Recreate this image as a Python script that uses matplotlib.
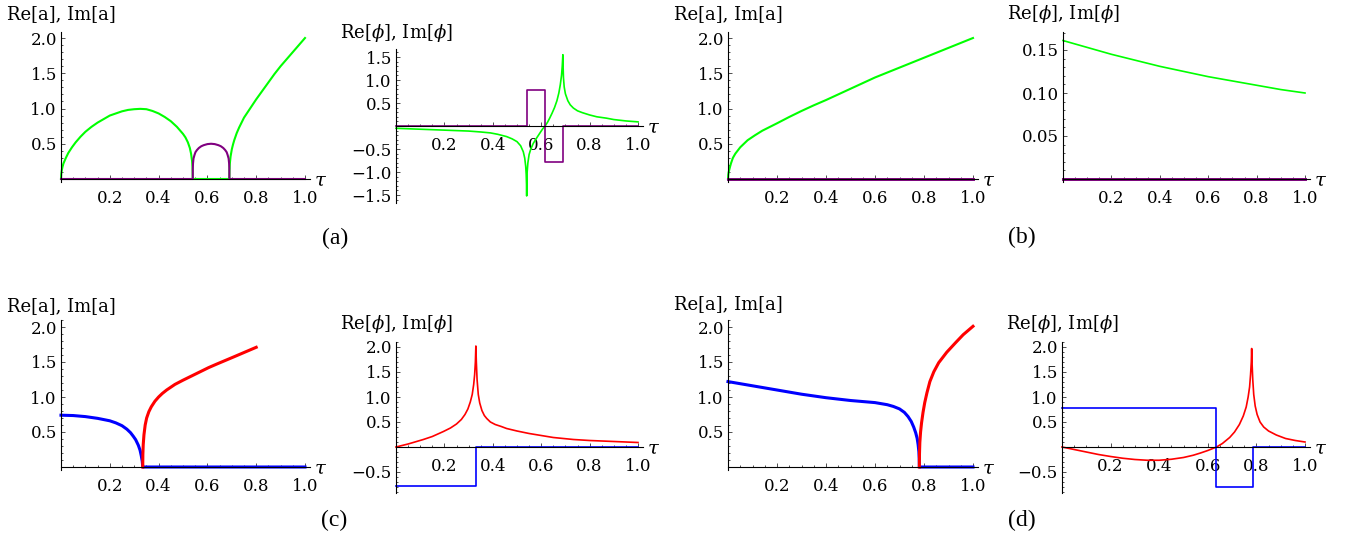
import numpy as np
import matplotlib.pyplot as plt
from matplotlib.ticker import MultipleLocator, FixedLocator

plt.rcParams['font.family'] = 'DejaVu Serif'
plt.rcParams['mathtext.fontset'] = 'dejavuserif'
plt.rcParams['axes.unicode_minus'] = True

W, H = 1356, 537

# ---- data ----
# (a) left: Re[a] green, Im[a] purple
a_re_tau = [0, 0.001, 0.003, 0.006, 0.01, 0.02, 0.03, 0.045, 0.06, 0.08, 0.1, 0.125,
            0.15, 0.175, 0.2, 0.225, 0.25, 0.275, 0.3, 0.325, 0.35, 0.375, 0.4, 0.425,
            0.45, 0.475, 0.5, 0.51, 0.52, 0.528, 0.533, 0.537, 0.539, 0.54,
            0.69, 0.6905, 0.692, 0.695, 0.7, 0.705, 0.71, 0.72, 0.73, 0.74, 0.75,
            0.775, 0.8, 0.825, 0.85, 0.875, 0.9, 0.925, 0.95, 0.975, 1.0]
a_re_val = [0, 0.07, 0.12, 0.17, 0.22, 0.3, 0.37, 0.45, 0.52, 0.6, 0.67, 0.74,
            0.80, 0.85, 0.90, 0.93, 0.96, 0.98, 0.99, 0.995, 0.99, 0.965, 0.93, 0.88,
            0.82, 0.74, 0.64, 0.59, 0.52, 0.44, 0.36, 0.26, 0.17, 0,
            0, 0.12, 0.22, 0.32, 0.42, 0.49, 0.55, 0.65, 0.73, 0.8, 0.87,
            1.0, 1.13, 1.25, 1.37, 1.49, 1.6, 1.7, 1.8, 1.9, 2.0]
a_im_tau = [0, 0.54, 0.5402, 0.541, 0.543, 0.547, 0.551, 0.557, 0.565, 0.575, 0.585,
            0.6, 0.615, 0.63, 0.645, 0.655, 0.665, 0.673, 0.679, 0.683, 0.687, 0.689,
            0.6898, 0.69, 1.0]
a_im_val = [0, 0, 0.15, 0.22, 0.29, 0.34, 0.38, 0.41, 0.44, 0.465, 0.48,
            0.495, 0.5, 0.495, 0.48, 0.465, 0.44, 0.41, 0.38, 0.34, 0.29, 0.22,
            0.15, 0, 0]

# (a) right: Re[phi] green, Im[phi] purple
a_phre_tau = [0, 0.05, 0.1, 0.15, 0.2, 0.25, 0.3, 0.35, 0.39, 0.42, 0.457, 0.48, 0.5,
              0.515, 0.526, 0.532, 0.536, 0.538, 0.5395, 0.54, 0.5405, 0.542, 0.545,
              0.55, 0.557, 0.567, 0.58, 0.595, 0.605, 0.616, 0.626, 0.635, 0.645,
              0.655, 0.665, 0.673, 0.679, 0.684, 0.687, 0.6895, 0.6905, 0.692, 0.695,
              0.7, 0.71, 0.72, 0.733, 0.75, 0.77, 0.8, 0.83, 0.87, 0.9, 0.95, 1.0]
a_phre_val = [-0.05, -0.06, -0.07, -0.08, -0.09, -0.1, -0.11, -0.13, -0.15, -0.18, -0.23,
              -0.28, -0.34, -0.43, -0.56, -0.7, -0.88, -1.05, -1.3, -1.52, -1.3, -1.0,
              -0.8, -0.62, -0.5, -0.38, -0.27, -0.15, -0.07, 0, 0.08, 0.17, 0.28,
              0.4, 0.55, 0.72, 0.9, 1.1, 1.3, 1.55, 1.3, 1.05, 0.85,
              0.7, 0.55, 0.46, 0.39, 0.33, 0.29, 0.24, 0.2, 0.17, 0.14, 0.11, 0.09]
a_phim_tau = [0, 0.54, 0.54, 0.616, 0.616, 0.69, 0.69, 1.0]
a_phim_val = [0, 0, 0.78, 0.78, -0.78, -0.78, 0, 0]

# (b) left
b_re_tau = [0, 0.001, 0.003, 0.008, 0.012, 0.02, 0.03, 0.05, 0.08, 0.11, 0.14, 0.2,
            0.25, 0.3, 0.35, 0.4, 0.45, 0.5, 0.55, 0.6, 0.65, 0.7, 0.75, 0.8, 0.85,
            0.9, 0.95, 1.0]
b_re_val = [0, 0.06, 0.1, 0.17, 0.22, 0.3, 0.36, 0.45, 0.55, 0.62, 0.685, 0.79,
            0.88, 0.965, 1.045, 1.12, 1.2, 1.28, 1.36, 1.44, 1.51, 1.58, 1.65, 1.72, 1.79,
            1.86, 1.93, 2.0]
b_im_tau = [0, 1.0]
b_im_val = [0, 0]

# (b) right
b_phre_tau = [0, 0.1, 0.2, 0.3, 0.4, 0.5, 0.6, 0.7, 0.8, 0.9, 1.0]
b_phre_val = [0.161, 0.153, 0.145, 0.138, 0.131, 0.125, 0.119, 0.114, 0.109, 0.104, 0.100]
b_phim_tau = [0, 1.0]
b_phim_val = [0, 0]

# (c) left: blue / red
c_blue_tau = [0, 0.05, 0.1, 0.15, 0.2, 0.225, 0.25, 0.27, 0.285, 0.296, 0.306, 0.317,
              0.324, 0.329, 0.333, 0.335, 1.0]
c_blue_val = [0.74, 0.735, 0.72, 0.695, 0.66, 0.63, 0.59, 0.54, 0.49, 0.44, 0.39, 0.31,
              0.24, 0.16, 0.08, 0, 0]
c_red_tau = [0.335, 0.3355, 0.337, 0.34, 0.345, 0.351, 0.36, 0.37, 0.385, 0.4, 0.415,
             0.433, 0.467, 0.5, 0.535, 0.57, 0.605, 0.638, 0.672, 0.706, 0.753, 0.8]
c_red_val = [0, 0.18, 0.32, 0.46, 0.6, 0.7, 0.79, 0.86, 0.94, 1.0, 1.05,
             1.1, 1.18, 1.24, 1.30, 1.36, 1.42, 1.47, 1.52, 1.57, 1.64, 1.71]

# (c) right
c_phred_tau = [0, 0.05, 0.113, 0.15, 0.196, 0.225, 0.25, 0.27, 0.285, 0.297, 0.307,
               0.315, 0.321, 0.325, 0.328, 0.33, 0.332, 0.335, 0.34, 0.346, 0.355,
               0.365, 0.375, 0.39, 0.41, 0.435, 0.457, 0.5, 0.55, 0.6, 0.65, 0.733,
               0.8, 0.9, 1.0]
c_phred_val = [0, 0.06, 0.15, 0.21, 0.31, 0.38, 0.46, 0.55, 0.65, 0.76, 0.9,
               1.05, 1.25, 1.45, 1.7, 2.02, 1.7, 1.35, 1.05, 0.88, 0.73,
               0.63, 0.57, 0.5, 0.45, 0.41, 0.37, 0.32, 0.27, 0.23, 0.19, 0.15,
               0.13, 0.11, 0.09]
c_phblue_tau = [0, 0.33, 0.33, 1.0]
c_phblue_val = [-0.78, -0.78, 0, 0]

# (d) left
d_blue_tau = [0, 0.05, 0.1, 0.15, 0.2, 0.25, 0.3, 0.35, 0.4, 0.45, 0.5, 0.55, 0.6,
              0.625, 0.65, 0.675, 0.7, 0.72, 0.735, 0.748, 0.758, 0.766, 0.772, 0.776,
              0.779, 0.7805, 0.781, 1.0]
d_blue_val = [1.22, 1.19, 1.16, 1.13, 1.10, 1.07, 1.04, 1.015, 0.99, 0.97, 0.95, 0.935,
              0.92, 0.905, 0.89, 0.865, 0.83, 0.78, 0.72, 0.65, 0.57, 0.49, 0.41, 0.32,
              0.22, 0.12, 0, 0]
d_red_tau = [0.781, 0.7815, 0.783, 0.786, 0.79, 0.796, 0.803, 0.812, 0.824, 0.84,
             0.86, 0.893, 0.93, 0.96, 1.0]
d_red_val = [0, 0.18, 0.35, 0.5, 0.63, 0.78, 0.92, 1.06, 1.22, 1.36,
             1.49, 1.64, 1.78, 1.89, 2.01]

# (d) right
d_phred_tau = [0, 0.05, 0.1, 0.15, 0.2, 0.25, 0.3, 0.35, 0.4, 0.45, 0.5, 0.54, 0.57,
               0.6, 0.636, 0.66, 0.69, 0.71, 0.73, 0.746, 0.758, 0.766, 0.772, 0.776,
               0.779, 0.7805, 0.782, 0.785, 0.789, 0.795, 0.803, 0.815, 0.83, 0.85,
               0.882, 0.92, 0.96, 1.0]
d_phred_val = [0, -0.05, -0.1, -0.15, -0.19, -0.225, -0.25, -0.265, -0.265, -0.245,
               -0.21, -0.165, -0.12, -0.07, 0, 0.07, 0.19, 0.3, 0.45, 0.62, 0.8, 1.0,
               1.2, 1.45, 1.7, 1.97, 1.7, 1.35, 1.05, 0.82, 0.65, 0.5, 0.4, 0.32,
               0.24, 0.17, 0.13, 0.1]
d_phblue_tau = [0, 0.635, 0.635, 0.785, 0.785, 1.0]
d_phblue_val = [0.79, 0.79, -0.79, -0.79, 0, 0]

x_ticks = [0.2, 0.4, 0.6, 0.8, 1.0]

GREEN, PURPLE, BLUE, RED = '#00ff00', '#800080', '#0000ff', '#ff0000'

fig = plt.figure(figsize=(W / 100, H / 100), dpi=100)


def make_axes(x0p, x1p, y0p, sy, ylim, xlim=(0, 1.02)):
    sx = x1p - x0p
    left = x0p + xlim[0] * sx
    right = x0p + xlim[1] * sx
    bottom = y0p - ylim[0] * sy
    top = y0p - ylim[1] * sy
    ax = fig.add_axes([left / W, 1 - bottom / H, (right - left) / W, (bottom - top) / H])
    ax.set_xlim(*xlim)
    ax.set_ylim(*ylim)
    ax.patch.set_alpha(0)
    for s in ['top', 'right']:
        ax.spines[s].set_visible(False)
    ax.spines['left'].set_position(('data', 0))
    ax.spines['bottom'].set_position(('data', 0))
    for s in ['left', 'bottom']:
        ax.spines[s].set_linewidth(0.8)
    return ax


def style_ticks(ax, yticks, ylabels, yminor):
    ax.xaxis.set_major_locator(FixedLocator(x_ticks))
    ax.set_xticklabels(['%.1f' % t for t in x_ticks])
    ax.xaxis.set_minor_locator(MultipleLocator(0.05))
    ax.yaxis.set_major_locator(FixedLocator(yticks))
    ax.set_yticklabels(ylabels)
    ax.yaxis.set_minor_locator(MultipleLocator(yminor))
    ax.tick_params(which='both', direction='in', labelsize=12, width=0.6, color='#333333')
    ax.tick_params(which='major', length=3.0)
    ax.tick_params(which='minor', length=1.6)
    ax.tick_params(axis='x', pad=8)
    ax.tick_params(axis='y', pad=3)


def labels(ax, x0p, y0p, x1p, ylab, ylab_y):
    sx = x1p - x0p
    fig.text(x0p / W, 1 - ylab_y / H, ylab, ha='center', va='center', fontsize=13)
    xend = x0p + 1.02 * sx
    fig.text((xend + 11) / W, 1 - (y0p + 2) / H, r'$\tau$', ha='center', va='center',
             fontsize=14)


a_lab = 'Re[a], Im[a]'
p_lab = r'Re[$\phi$], Im[$\phi$]'

lw_a = 1.5
lw_p = 1.2
lw_cd = 2.2

# (a) left
ax = make_axes(61, 305, 179, 70.5, (-0.04, 2.085))
ax.plot(a_re_tau, a_re_val, color=GREEN, lw=lw_a, clip_on=False)
ax.plot(a_im_tau, a_im_val, color=PURPLE, lw=lw_a, clip_on=False)
style_ticks(ax, [0.5, 1.0, 1.5, 2.0], ['0.5', '1.0', '1.5', '2.0'], 0.1)
labels(ax, 61, 179, 305, a_lab, 14)

# (a) right
ax = make_axes(396, 638, 126, 46, (-1.68, 1.68))
ax.plot(a_phre_tau, a_phre_val, color=GREEN, lw=lw_p, clip_on=False)
ax.plot(a_phim_tau, a_phim_val, color=PURPLE, lw=lw_p, clip_on=False)
style_ticks(ax, [-1.5, -1.0, -0.5, 0.5, 1.0, 1.5],
            ['\u22121.5', '\u22121.0', '\u22120.5', '0.5', '1.0', '1.5'], 0.1)
labels(ax, 396, 126, 638, p_lab, 33)

# (b) left
ax = make_axes(728, 973, 179, 70.5, (-0.04, 2.085))
ax.plot(b_re_tau, b_re_val, color=GREEN, lw=lw_a, clip_on=False)
ax.plot(b_im_tau, b_im_val, color=PURPLE, lw=lw_a + 0.6, clip_on=False)
style_ticks(ax, [0.5, 1.0, 1.5, 2.0], ['0.5', '1.0', '1.5', '2.0'], 0.1)
labels(ax, 728, 179, 973, a_lab, 14)

# (b) right
ax = make_axes(1063, 1305, 179, 860, (-0.004, 0.171))
ax.plot(b_phre_tau, b_phre_val, color=GREEN, lw=lw_p, clip_on=False)
ax.plot(b_phim_tau, b_phim_val, color=PURPLE, lw=lw_a + 0.6, clip_on=False)
style_ticks(ax, [0.05, 0.10, 0.15], ['0.05', '0.10', '0.15'], 0.01)
labels(ax, 1063, 179, 1305, p_lab, 14)

# (c) left
ax = make_axes(61, 305, 467, 70, (-0.04, 2.1))
ax.plot(c_blue_tau, c_blue_val, color=BLUE, lw=lw_cd, clip_on=False)
ax.plot(c_red_tau, c_red_val, color=RED, lw=lw_cd, clip_on=False)
style_ticks(ax, [0.5, 1.0, 1.5, 2.0], ['0.5', '1.0', '1.5', '2.0'], 0.1)
labels(ax, 61, 467, 305, a_lab, 306)

# (c) right
ax = make_axes(396, 638, 447, 50, (-0.92, 2.1))
ax.plot(c_phred_tau, c_phred_val, color=RED, lw=lw_p, clip_on=False)
ax.plot(c_phblue_tau, c_phblue_val, color=BLUE, lw=lw_p, clip_on=False)
style_ticks(ax, [-0.5, 0.5, 1.0, 1.5, 2.0],
            ['\u22120.5', '0.5', '1.0', '1.5', '2.0'], 0.1)
labels(ax, 396, 447, 638, p_lab, 324)

# (d) left
ax = make_axes(728, 973, 467, 70, (-0.04, 2.1))
ax.plot(d_blue_tau, d_blue_val, color=BLUE, lw=lw_cd, clip_on=False)
ax.plot(d_red_tau, d_red_val, color=RED, lw=lw_cd, clip_on=False)
style_ticks(ax, [0.5, 1.0, 1.5, 2.0], ['0.5', '1.0', '1.5', '2.0'], 0.1)
labels(ax, 728, 467, 973, a_lab, 304)

# (d) right
ax = make_axes(1062, 1305, 447, 50, (-0.92, 2.1))
ax.plot(d_phred_tau, d_phred_val, color=RED, lw=lw_p, clip_on=False)
ax.plot(d_phblue_tau, d_phblue_val, color=BLUE, lw=lw_p, clip_on=False)
style_ticks(ax, [-0.5, 0.5, 1.0, 1.5, 2.0],
            ['\u22120.5', '0.5', '1.0', '1.5', '2.0'], 0.1)
labels(ax, 1062, 447, 1305, p_lab, 324)

# panel captions
for txt, px, py in [('(a)', 335, 238), ('(b)', 1022, 237), ('(c)', 334, 520), ('(d)', 1022, 520)]:
    fig.text(px / W, 1 - py / H, txt, ha='center', va='center', fontsize=17,
             family='Liberation Serif')

fig.savefig('out.png', dpi=100)
